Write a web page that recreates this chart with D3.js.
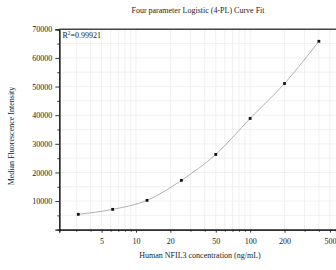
<!DOCTYPE html>
<html>
<head>
<meta charset="utf-8">
<script src="https://cdn.jsdelivr.net/npm/d3@7"></script>
<style>
  body { margin: 0; background: #fff; }
  text { font-family: "Liberation Serif", "DejaVu Serif", serif; fill: #222; }
</style>
</head>
<body>
<div id="chart"></div>
<script>
// data
var concentrations = [3.125, 6.25, 12.5, 25, 50, 100, 200, 400];
var intensities = [5370, 7110, 10250, 17230, 26300, 38860, 51060, 65820];
var xTickLabels = [5, 10, 20, 50, 100, 200, 500];
var xMinorTicks = [3, 4, 6, 7, 8, 9, 30, 40, 60, 70, 80, 90, 300, 400];
var yTickLabels = [10000, 20000, 30000, 40000, 50000, 60000, 70000];
var yMinorTicks = [5000, 15000, 25000, 35000, 45000, 55000, 65000];

var svgWidth = 336;
var svgHeight = 270;
var fontSize = 8;

var plot = { left: 59.3, right: 336, top: 29.3, bottom: 229.7 };

var svg = d3.select("#chart")
    .append("svg")
    .attr("width", svgWidth)
    .attr("height", svgHeight);

var x = d3.scaleLog()
    .domain([2.13, 565])
    .range([plot.left, plot.right]);

var y = d3.scaleLinear()
    .domain([0, 70000])
    .range([plot.bottom, plot.top]);

// grid lines
var grid = svg.append("g").attr("stroke", "#ececec").attr("stroke-width", 0.8);

grid.selectAll(".vg")
    .data(xTickLabels.concat(xMinorTicks))
    .enter()
    .append("line")
    .attr("x1", d => x(d)).attr("x2", d => x(d))
    .attr("y1", plot.top).attr("y2", plot.bottom);

grid.selectAll(".hg")
    .data(yTickLabels.concat(yMinorTicks))
    .enter()
    .append("line")
    .attr("x1", plot.left).attr("x2", plot.right)
    .attr("y1", d => y(d)).attr("y2", d => y(d));

// axes
var bottomAxis = d3.axisBottom(x)
    .tickValues(xTickLabels)
    .tickFormat(d3.format("d"))
    .tickSize(3)
    .tickPadding(6);

var bottomMinor = d3.axisBottom(x)
    .tickValues(xMinorTicks)
    .tickFormat("")
    .tickSize(2);

var leftAxis = d3.axisLeft(y)
    .tickValues(yTickLabels)
    .tickFormat(d3.format("d"))
    .tickSize(4)
    .tickPadding(3);

var leftMinor = d3.axisLeft(y)
    .tickValues(yMinorTicks)
    .tickFormat("")
    .tickSize(2);

function styleAxis(g) {
    g.select(".domain").attr("stroke", "#222").attr("stroke-width", 1.2);
    g.selectAll(".tick line").attr("stroke", "#222").attr("stroke-width", 0.9);
    g.selectAll(".tick text")
        .attr("font-family", "Liberation Serif, serif")
        .attr("font-size", fontSize)
        .attr("fill", "#222");
}

svg.append("g")
    .attr("transform", `translate(0, ${plot.bottom})`)
    .call(bottomAxis)
    .call(styleAxis);

svg.append("g")
    .attr("transform", `translate(0, ${plot.bottom})`)
    .call(bottomMinor)
    .call(styleAxis);

svg.append("g")
    .attr("transform", `translate(${plot.left}, 0)`)
    .call(leftAxis)
    .call(styleAxis);

svg.append("g")
    .attr("transform", `translate(${plot.left}, 0)`)
    .call(leftMinor)
    .call(styleAxis);

// top frame line
svg.append("line")
    .attr("x1", plot.left).attr("x2", plot.right)
    .attr("y1", plot.top).attr("y2", plot.top)
    .attr("stroke", "#444")
    .attr("stroke-width", 1.4);

// fitted curve (drawn through the points by d3's curve)
var points = concentrations.map((c, i) => [c, intensities[i]]);

var line = d3.line()
    .x(d => x(d[0]))
    .y(d => y(d[1]))
    .curve(d3.curveMonotoneX);

svg.append("path")
    .datum(points)
    .attr("d", line)
    .attr("fill", "none")
    .attr("stroke", "#a8a8a8")
    .attr("stroke-width", 0.9);

svg.append("g").selectAll("rect")
    .data(points)
    .enter()
    .append("rect")
    .attr("x", d => x(d[0]) - 1.4)
    .attr("y", d => y(d[1]) - 1.4)
    .attr("width", 2.8)
    .attr("height", 2.8)
    .attr("fill", "#111");

// texts
svg.append("text")
    .attr("x", 198)
    .attr("y", 13)
    .attr("text-anchor", "middle")
    .attr("font-size", fontSize)
    .text("Four parameter Logistic (4-PL) Curve Fit");

var r2 = svg.append("text")
    .attr("x", 62.5)
    .attr("y", 37.5)
    .attr("font-size", fontSize)
    .text("R");
r2.append("tspan").attr("dy", -3).attr("font-size", 5.2).text("2");
r2.append("tspan").attr("dy", 3).text("=0.99921");

svg.append("text")
    .attr("transform", `translate(14, 136) rotate(-90)`)
    .attr("text-anchor", "middle")
    .attr("font-size", fontSize)
    .text("Median Fluorescence Intensity");

svg.append("text")
    .attr("x", 200)
    .attr("y", 258)
    .attr("text-anchor", "middle")
    .attr("font-size", fontSize)
    .text("Human NFIL3 concentration (ng/mL)");
</script>
</body>
</html>
